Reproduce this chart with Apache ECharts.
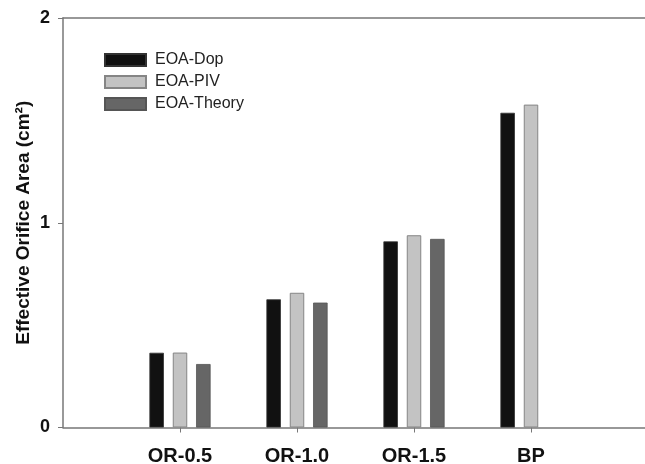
<!DOCTYPE html>
<html>
<head>
<meta charset="utf-8">
<script src="https://cdn.jsdelivr.net/npm/echarts@6/dist/echarts.min.js"></script>
<style>html,body{margin:0;padding:0;background:#fff}#c{width:645px;height:464px}</style>
</head>
<body>
<div id="c"></div>
<script>
const categories = ['', 'OR-0.5', 'OR-1.0', 'OR-1.5', 'BP', ''];
const eoaDop = [null, 0.365, 0.626, 0.909, 1.537, null];
const eoaPIV = [null, 0.366, 0.658, 0.939, 1.577, null];
const eoaTheory = [null, 0.310, 0.610, 0.921, null, null];
const yTicks = [0, 1, 2];

const axisColor = '#777777';
const font = 'Liberation Sans, Arial, sans-serif';
const chart = echarts.init(document.getElementById('c'), null, {renderer: 'canvas'});
chart.setOption({
  animation: false,
  backgroundColor: '#ffffff',
  grid: {left: 63, top: 18, width: 585, height: 409.5, containLabel: false, outerBoundsMode: 'none'},
  legend: {
    orient: 'vertical', left: 104, top: 51, padding: 0,
    itemWidth: 41, itemHeight: 12, itemGap: 4,
    icon: 'rect',
    textStyle: {fontFamily: font, fontSize: 16, color: '#222', padding: [0, 0, 0, 4], lineHeight: 18},
    data: ['EOA-Dop', 'EOA-PIV', 'EOA-Theory']
  },
  xAxis: [{
    type: 'category', data: categories, boundaryGap: false,
    axisLine: {show: true, lineStyle: {color: axisColor, width: 1.5}},
    axisTick: {show: true, length: 5, inside: false, interval: (i) => i >= 1 && i <= 4, lineStyle: {color: axisColor}},
    axisLabel: {interval: 0, fontFamily: font, fontWeight: 'bold', fontSize: 20, color: '#111', margin: 19},
    splitLine: {show: false}
  }, {
    type: 'category', data: categories, boundaryGap: false, position: 'top',
    axisLine: {show: true, onZero: false, lineStyle: {color: axisColor, width: 1.5}},
    axisTick: {show: false}, axisLabel: {show: false}, splitLine: {show: false}
  }],
  yAxis: {
    type: 'value', min: yTicks[0], max: yTicks[yTicks.length - 1], interval: 1,
    name: 'Effective Orifice Area (cm²)',
    nameLocation: 'middle', nameGap: 30, nameMoveOverlap: false,
    nameTextStyle: {fontFamily: font, fontWeight: 'bold', fontSize: 19, color: '#111'},
    axisLine: {show: true, lineStyle: {color: axisColor, width: 1.5}},
    axisTick: {show: true, length: 5, inside: false, lineStyle: {color: axisColor}},
    axisLabel: {fontFamily: font, fontWeight: 'bold', fontSize: 18, color: '#111', margin: 13},
    splitLine: {show: false}
  },
  series: [
    {name: 'EOA-Dop', type: 'bar', data: eoaDop, barWidth: 14.5, barGap: '61%',
     itemStyle: {color: '#111111', borderColor: '#333333', borderWidth: 0.8}},
    {name: 'EOA-PIV', type: 'bar', data: eoaPIV, barWidth: 14.5, barGap: '61%',
     itemStyle: {color: '#c3c3c3', borderColor: '#858585', borderWidth: 1}},
    {name: 'EOA-Theory', type: 'bar', data: eoaTheory, barWidth: 14.5, barGap: '61%',
     itemStyle: {color: '#666666', borderColor: '#555555', borderWidth: 0.8}}
  ]
});
</script>
</body>
</html>
